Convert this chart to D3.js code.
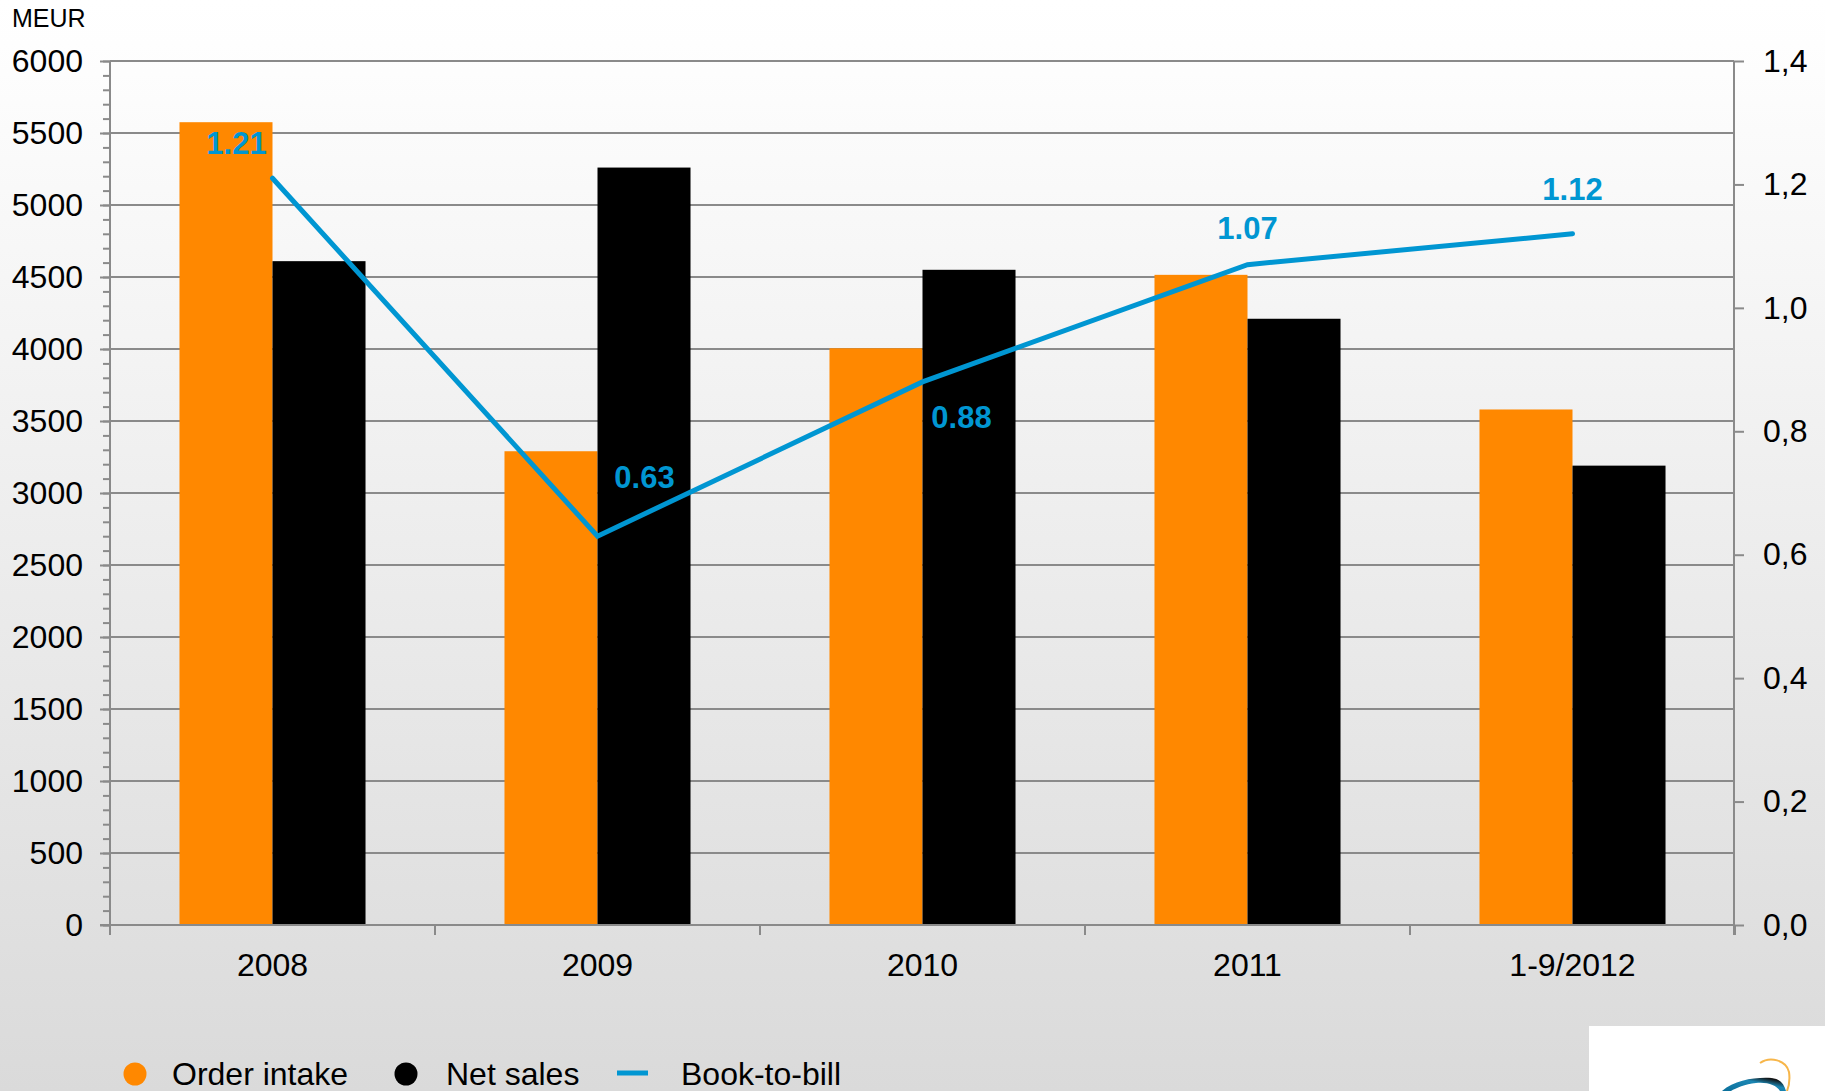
<!DOCTYPE html>
<html>
<head>
<meta charset="utf-8">
<script src="https://cdn.jsdelivr.net/npm/d3@7"></script>
<style>
  html, body { margin: 0; padding: 0; background: #fff; }
  svg { display: block; font-family: "Liberation Sans", Arial, sans-serif; }
</style>
</head>
<body>
<svg id="chart" width="1825" height="1091"></svg>
<script>
// ---- data ----
const categories = ["2008", "2009", "2010", "2011", "1-9/2012"];
const orderIntake = [5575, 3290, 4005, 4515, 3580];
const netSales = [4610, 5260, 4550, 4210, 3190];
const bookToBill = [1.21, 0.63, 0.88, 1.07, 1.12];
const bookToBillLabels = ["1.21", "0.63", "0.88", "1.07", "1.12"];
const leftTicks = [0, 500, 1000, 1500, 2000, 2500, 3000, 3500, 4000, 4500, 5000, 5500, 6000];
const rightTicks = [0, 0.2, 0.4, 0.6, 0.8, 1.0, 1.2, 1.4];
const seriesNames = ["Order intake", "Net sales", "Book-to-bill"];

// ---- styles ----
const ORANGE = "#ff8800", BLACK = "#000000", BLUE = "#0096d2", AXIS = "#8a8a8a";
const FS = 32;
const W = 1825, H = 1091;
const m = { left: 110, right: 1734, top: 61, bottom: 925 };

const svg = d3.select("#chart");
const defs = svg.append("defs");
const grad = defs.append("linearGradient").attr("id", "bg").attr("x1", 0).attr("y1", 0).attr("x2", 0).attr("y2", 1);
grad.append("stop").attr("offset", "0%").attr("stop-color", "#ffffff");
grad.append("stop").attr("offset", "4%").attr("stop-color", "#fefefe");
grad.append("stop").attr("offset", "100%").attr("stop-color", "#dadada");
svg.append("rect").attr("width", W).attr("height", H).attr("fill", "url(#bg)");

// scales
const x0 = d3.scaleBand().domain(categories).range([m.left, m.right + 1]).paddingInner(0).paddingOuter(0);
const x1 = d3.scaleBand().domain(["order", "net"]).range([0, x0.bandwidth()]).paddingInner(0).paddingOuter(0.747);
const yL = d3.scaleLinear().domain([0, 6000]).range([m.bottom, m.top]);
const yR = d3.scaleLinear().domain([0, 1.4]).range([m.bottom, m.top]);

// gridlines
svg.append("g").selectAll("line").data(leftTicks.filter(d => d > 0)).join("line")
  .attr("x1", m.left).attr("x2", m.right)
  .attr("y1", d => yL(d)).attr("y2", d => yL(d))
  .attr("stroke", AXIS).attr("stroke-width", 2);

// bars
const groups = svg.append("g").selectAll("g").data(categories).join("g")
  .attr("transform", d => `translate(${x0(d)},0)`);
groups.append("rect")
  .attr("x", x1("order")).attr("width", x1.bandwidth())
  .attr("y", (d, i) => yL(orderIntake[i])).attr("height", (d, i) => yL(0) - yL(orderIntake[i]))
  .attr("fill", ORANGE);
groups.append("rect")
  .attr("x", x1("net")).attr("width", x1.bandwidth())
  .attr("y", (d, i) => yL(netSales[i])).attr("height", (d, i) => yL(0) - yL(netSales[i]))
  .attr("fill", BLACK);

// left axis
const minorTicks = d3.range(0, 6001, 100);
const leftAxis = d3.axisLeft(yL).tickValues(minorTicks).tickSize(7).tickFormat("");
const gL = svg.append("g").attr("transform", `translate(${m.left},0)`).call(leftAxis);
gL.select(".domain").remove();
gL.selectAll(".tick line").attr("stroke", AXIS).attr("stroke-width", 2);
const leftMajor = d3.axisLeft(yL).tickValues(leftTicks).tickSize(10).tickPadding(17).tickFormat(d3.format("d"));
const gL2 = svg.append("g").attr("transform", `translate(${m.left},0)`).call(leftMajor);
gL2.select(".domain").remove();
gL2.selectAll(".tick line").attr("stroke", AXIS).attr("stroke-width", 2);
gL2.selectAll(".tick text").attr("fill", "#000").style("font-size", FS + "px").attr("font-family", "Liberation Sans, Arial, sans-serif");
svg.append("line").attr("x1", m.left).attr("x2", m.left).attr("y1", m.top).attr("y2", m.bottom + 10)
  .attr("stroke", AXIS).attr("stroke-width", 2);

// right axis
const fmtComma = d => d3.format(".1f")(d).replace(".", ",");
const rightAxis = d3.axisRight(yR).tickValues(rightTicks).tickSize(10).tickPadding(19).tickFormat(fmtComma);
const gR = svg.append("g").attr("transform", `translate(${m.right},0)`).call(rightAxis);
gR.select(".domain").remove();
gR.selectAll(".tick line").attr("stroke", AXIS).attr("stroke-width", 2);
gR.selectAll(".tick text").attr("fill", "#000").style("font-size", FS + "px").attr("font-family", "Liberation Sans, Arial, sans-serif");
svg.append("line").attr("x1", m.right).attr("x2", m.right).attr("y1", m.top).attr("y2", m.bottom + 10)
  .attr("stroke", AXIS).attr("stroke-width", 2);

// bottom axis
svg.append("line").attr("x1", m.left - 10).attr("x2", m.right).attr("y1", m.bottom).attr("y2", m.bottom)
  .attr("stroke", AXIS).attr("stroke-width", 2);
const boundaries = categories.map(c => x0(c)).concat([x0(categories[categories.length - 1]) + x0.bandwidth()]);
svg.append("g").selectAll("line").data(boundaries).join("line")
  .attr("x1", d => d).attr("x2", d => d).attr("y1", m.bottom).attr("y2", m.bottom + 10)
  .attr("stroke", AXIS).attr("stroke-width", 2);
svg.append("g").selectAll("text").data(categories).join("text")
  .attr("x", d => x0(d) + x0.bandwidth() / 2).attr("y", 976)
  .attr("text-anchor", "middle").attr("font-size", FS).attr("fill", "#000").text(d => d);

// MEUR
svg.append("text").attr("x", 12).attr("y", 27).attr("font-size", 25).attr("fill", "#000").text("MEUR");

// line
const cx = i => x0(categories[i]) + x0.bandwidth() / 2;
const line = d3.line().x((d, i) => cx(i)).y(d => yR(d));
svg.append("path").datum(bookToBill).attr("d", line)
  .attr("fill", "none").attr("stroke", BLUE).attr("stroke-width", 5)
  .attr("stroke-linejoin", "miter").attr("stroke-linecap", "round");

// data labels (placement offsets)
const labelOffsets = [[-36, -24], [47, -48], [39, 46], [0, -26], [0, -34]];
svg.append("g").selectAll("text").data(bookToBill).join("text")
  .attr("x", (d, i) => cx(i) + labelOffsets[i][0])
  .attr("y", (d, i) => yR(d) + labelOffsets[i][1])
  .attr("text-anchor", "middle").attr("font-size", 31).attr("font-weight", "bold")
  .attr("fill", BLUE).text((d, i) => bookToBillLabels[i]);

// legend
const lg = svg.append("g");
lg.append("circle").attr("cx", 135).attr("cy", 1074).attr("r", 11.5).attr("fill", ORANGE);
lg.append("text").attr("x", 172).attr("y", 1085).attr("font-size", FS).attr("fill", "#000").text(seriesNames[0]);
lg.append("circle").attr("cx", 406).attr("cy", 1074).attr("r", 11.5).attr("fill", BLACK);
lg.append("text").attr("x", 446).attr("y", 1085).attr("font-size", FS).attr("fill", "#000").text(seriesNames[1]);
lg.append("line").attr("x1", 617).attr("x2", 648).attr("y1", 1073).attr("y2", 1073).attr("stroke", BLUE).attr("stroke-width", 5);
lg.append("text").attr("x", 681).attr("y", 1085).attr("font-size", FS).attr("fill", "#000").text(seriesNames[2]);

// logo box (partial, cut off by page edge)
const logo = svg.append("g");
logo.append("rect").attr("x", 1589).attr("y", 1026).attr("width", 236).attr("height", 65).attr("fill", "#ffffff");
const lgBlue = defs.append("linearGradient").attr("id", "swoosh").attr("x1", 0).attr("y1", 1).attr("x2", 1).attr("y2", 0);
lgBlue.append("stop").attr("offset", "0%").attr("stop-color", "#0a6f9a");
lgBlue.append("stop").attr("offset", "60%").attr("stop-color", "#1b86b3");
lgBlue.append("stop").attr("offset", "85%").attr("stop-color", "#111");
lgBlue.append("stop").attr("offset", "100%").attr("stop-color", "#bbb");
logo.append("path").attr("d", "M1722,1091 C1735,1080 1755,1077 1772,1078 C1780,1079 1784,1084 1786,1091 L1780,1091 C1776,1085 1768,1082 1756,1083 C1745,1084 1736,1088 1731,1091 Z")
  .attr("fill", "url(#swoosh)");
logo.append("path").attr("d", "M1760,1063 C1770,1056 1786,1060 1789,1072 C1790,1079 1789,1086 1787,1091")
  .attr("fill", "none").attr("stroke", "#f7b64a").attr("stroke-width", 2);
</script>
</body>
</html>
